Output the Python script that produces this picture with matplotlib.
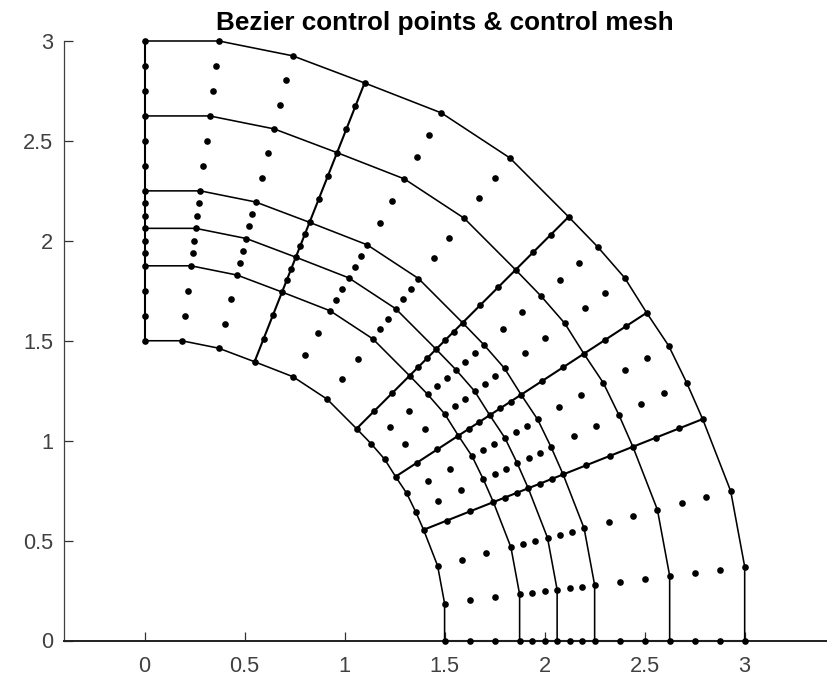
import matplotlib
matplotlib.use("Agg")
import matplotlib.pyplot as plt
import numpy as np

plt.rcParams['font.family'] = ['Liberation Sans', 'DejaVu Sans']

W, H = 828, 677
TITLE = "Bezier control points & control mesh"
tick_values = [0, 0.5, 1, 1.5, 2, 2.5, 3]
tick_labels = ["0", "0.5", "1", "1.5", "2", "2.5", "3"]

# control points on the outer boundary
outer_x = [0, 0.372, 0.74, 1.10, 1.484, 1.826, 2.12, 2.265, 2.40, 2.51, 2.62, 2.71, 2.79, 2.93, 3.0, 3.0]
outer_y = [3.0, 3.0, 2.926, 2.79, 2.64, 2.415, 2.12, 1.97, 1.815, 1.64, 1.475, 1.29, 1.108, 0.748, 0.37, 0.0]
# radial levels of the control net rows (read along the x axis)
radii = [1.5, 1.625, 1.75, 1.875, 1.9375, 2.0, 2.0625, 2.125, 2.1875, 2.25, 2.375, 2.5, 2.625, 2.75, 2.875, 3.0]
# indices of rows / columns that carry mesh lines
mesh_rows = [0, 3, 6, 9, 12, 15]
mesh_cols = [0, 3, 6, 9, 12, 15]

X = np.outer(radii, outer_x) / 3.0
Y = np.outer(radii, outer_y) / 3.0

fig = plt.figure(figsize=(W / 100, H / 100), dpi=100)
L, R, T, B = 64.5, 828, 41, 640.5
ax = fig.add_axes([L / W, 1 - B / H, (R - L) / W, (B - T) / H])

for r in mesh_rows:
    ax.plot(X[r, :], Y[r, :], color='black', lw=1.15, zorder=2, clip_on=False)
for c in mesh_cols:
    ax.plot(X[:, c], Y[:, c], color='black', lw=1.5, zorder=2, clip_on=False)
ax.plot(X.ravel(), Y.ravel(), ls='none', marker='o', ms=4.8, mfc='black', mec='black', mew=0, zorder=3, clip_on=False)

ax.set_xlim(-0.4, (R - 144.7) / 200)
ax.set_ylim(0, 3)
ax.set_xticks(tick_values, tick_labels)
ax.set_yticks(tick_values, tick_labels)
ax.spines['top'].set_visible(False)
ax.spines['right'].set_visible(False)
ax.spines['left'].set_color('#404040')
ax.spines['left'].set_linewidth(0.9)
ax.spines['bottom'].set_color('#202020')
ax.spines['bottom'].set_linewidth(1.4)
ax.tick_params(direction='in', length=6.5, width=0.9, color='#303030', labelcolor='#404040', labelsize=15.7)
ax.tick_params(axis='x', pad=10.8)
ax.tick_params(axis='y', pad=8)
ax.set_title(TITLE, fontsize=18.8, fontweight='bold', color='black', pad=8,
             x=(444.5 - L) / (R - L))

fig.savefig('out.png', dpi=100)
